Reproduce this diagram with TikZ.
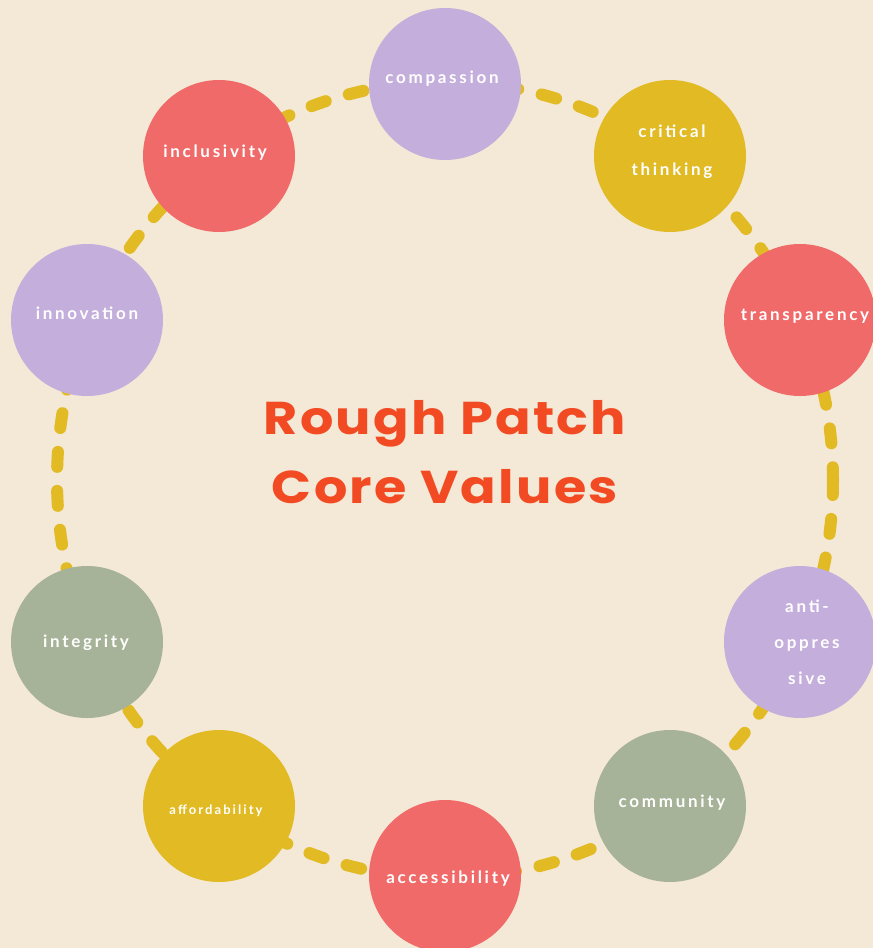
\documentclass[tikz,border=0pt]{standalone}
\usepackage{fontspec}
\newfontfamily\titlefont[LetterSpace=5,FakeStretch=1.14]{Poppins}
\newfontfamily\handfont[LetterSpace=16]{Lato}
\definecolor{bgc}{HTML}{F4E8D6}
\definecolor{lilac}{HTML}{C4AEDC}
\definecolor{mustard}{HTML}{E1BA24}
\definecolor{coral}{HTML}{F16A6A}
\definecolor{sage}{HTML}{A7B398}
\definecolor{titlec}{HTML}{F24B24}
\begin{document}
\begin{tikzpicture}[x=1pt,y=-1pt,
  blob/.style={circle,minimum size=152pt,inner sep=0pt,draw=none},
  lbl/.style={text=white,font=\handfont\bfseries\fontsize{17}{17}\selectfont,anchor=mid,inner sep=0pt},
  ttl/.style={text=titlec,font=\titlefont\bfseries\fontsize{46}{46}\selectfont,anchor=base,inner sep=0pt}]
\fill[bgc] (0,0) rectangle (873,948);
\useasboundingbox (0,0) rectangle (873,948);
\draw[mustard,line width=12pt,line cap=round,dash pattern=on 15pt off 24pt] (445,480) ellipse [x radius=388, y radius=398];
\node[blob,fill=lilac]   (compassion)   at (445,84)  {};
\node[blob,fill=mustard] (critical)     at (670,156) {};
\node[blob,fill=coral]   (transparency) at (800,320) {};
\node[blob,fill=lilac]   (anti)         at (800,642) {};
\node[blob,fill=sage]    (community)    at (670,806) {};
\node[blob,fill=coral]   (accessibility) at (445,876) {};
\node[blob,fill=mustard] (affordability) at (219,806) {};
\node[blob,fill=sage]    (integrity)    at (87,642)  {};
\node[blob,fill=lilac]   (innovation)   at (87,320)  {};
\node[blob,fill=coral]   (inclusivity)  at (219,156) {};
\node[lbl] (t1) at (442,81) {compassion};
\node[lbl] (t2a) at (672,135) {critical};
\node[lbl] (t2b) at (672,173) {thinking};
\node[lbl] (t3) at (805,318) {transparency};
\node[lbl] (t4a) at (807,610) {anti-};
\node[lbl] (t4b) at (807,646) {oppres};
\node[lbl] (t4c) at (807,682) {sive};
\node[lbl] (t5) at (672,805) {community};
\node[lbl] (t6) at (448,881) {accessibility};
\node[lbl,font=\handfont\bfseries\fontsize{13}{13}\selectfont] (t7) at (216,812) {affordability};
\node[lbl] (t8) at (86,645) {integrity};
\node[lbl] (t9) at (87,317) {innovation};
\node[lbl] (t10) at (215,155) {inclusivity};
\node[ttl] (title1) at (445,434) {Rough Patch};
\node[ttl] (title2) at (445,503) {Core Values};
\end{tikzpicture}
\end{document}
